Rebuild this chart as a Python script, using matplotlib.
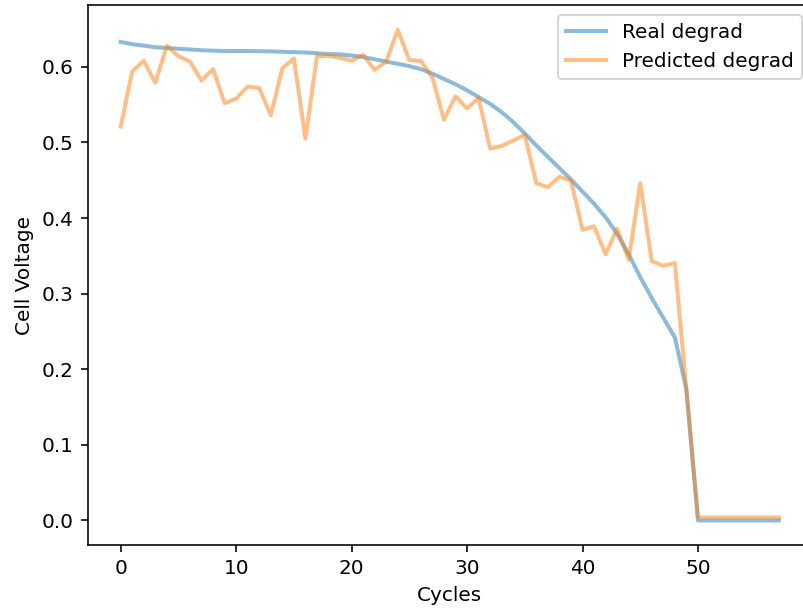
import matplotlib
matplotlib.use("Agg")
import matplotlib.pyplot as plt
import numpy as np

cycles = np.arange(58)

real_degrad = [0.633, 0.630, 0.628, 0.626, 0.625, 0.624, 0.623, 0.622, 0.6215, 0.621,
               0.621, 0.621, 0.6207, 0.6205, 0.620, 0.6195, 0.619, 0.618, 0.617, 0.6165,
               0.615, 0.613, 0.610, 0.607, 0.604, 0.601, 0.597, 0.591, 0.584, 0.577,
               0.569, 0.560, 0.551, 0.540, 0.527, 0.512, 0.496, 0.481, 0.466, 0.451,
               0.435, 0.419, 0.401, 0.379, 0.352, 0.322, 0.294, 0.268, 0.242, 0.173,
               0.0, 0.0, 0.0, 0.0, 0.0, 0.0, 0.0, 0.0]

predicted_degrad = [0.521, 0.594, 0.608, 0.579, 0.628, 0.614, 0.607, 0.582, 0.597, 0.552,
                    0.558, 0.574, 0.572, 0.536, 0.598, 0.611, 0.505, 0.614, 0.6145, 0.612,
                    0.608, 0.616, 0.596, 0.607, 0.649, 0.609, 0.608, 0.586, 0.530, 0.561,
                    0.545, 0.559, 0.492, 0.4955, 0.5026, 0.510, 0.446, 0.441, 0.4546, 0.4497,
                    0.3846, 0.389, 0.352, 0.386, 0.345, 0.446, 0.343, 0.337, 0.3405, 0.172,
                    0.004, 0.004, 0.004, 0.004, 0.004, 0.004, 0.004, 0.004]

fig = plt.figure(figsize=(803 / 144, 612 / 144), dpi=144)
ax = fig.add_axes([87.8 / 803, 67 / 612, (811.7 - 87.8) / 803, (545 - 5.3) / 612])

ax.plot(cycles, real_degrad, alpha=0.5, lw=2, label="Real degrad")
ax.plot(cycles, predicted_degrad, alpha=0.5, lw=2, label="Predicted degrad")
ax.set_xlabel("Cycles")
ax.set_ylabel("Cell Voltage")
ax.legend(loc="upper right")

fig.savefig("out.png", dpi=144)
